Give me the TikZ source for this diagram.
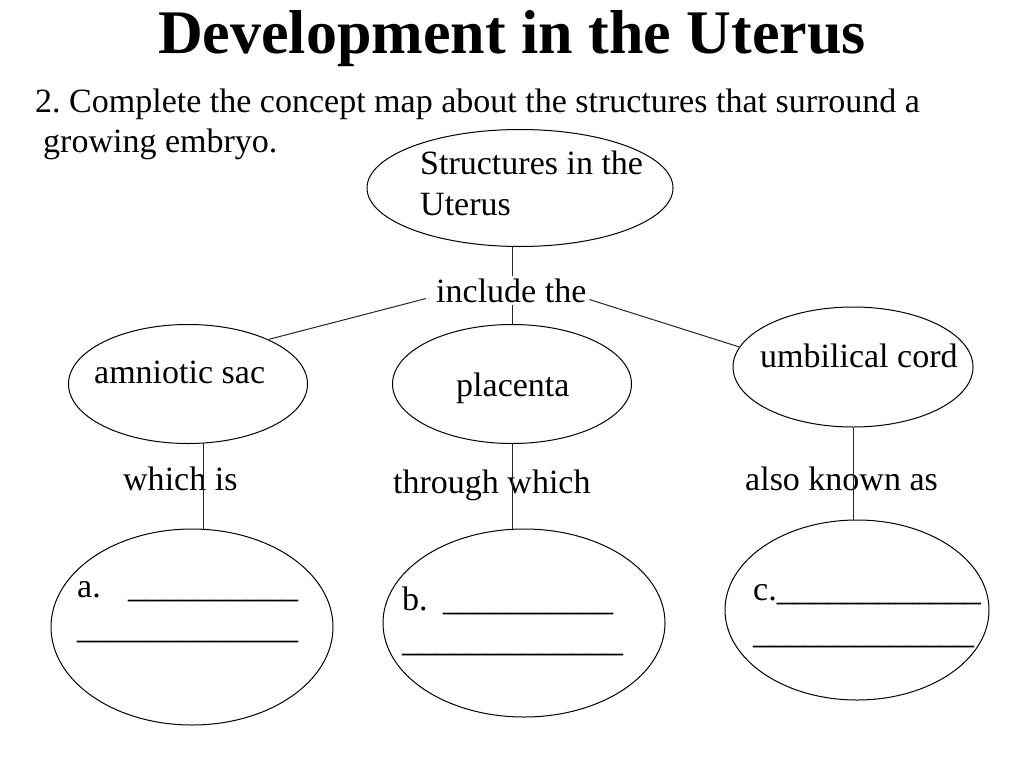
\documentclass[tikz,border=0pt]{standalone}
\usepackage{fontspec}
\setmainfont{Liberation Serif}
\frenchspacing
\usetikzlibrary{shapes.geometric}
\newcommand\blanks[1]{\foreach\k in {1,...,#1}{\_}}
\tikzset{
  bubble/.style={ellipse,draw,line width=1pt,inner sep=0pt},
  words/.style={font=\fontsize{34}{41}\selectfont,inner sep=0pt,anchor=base west,align=left},
  link/.style={draw=black!85,line width=1pt},
}

\begin{document}
\begin{tikzpicture}[x=1pt,y=-1pt]
  \fill[white] (0,0) rectangle (1024,768);
  \useasboundingbox (0,0) rectangle (1024,768);

  % heading (multi-line nodes sit on their last baseline)
  \node[font=\bfseries\fontsize{62}{70}\selectfont,inner sep=0pt,anchor=base] (title) at (512,53) {Development in the Uterus};
  \node[words,font=\fontsize{34}{40}\selectfont] (task) at (35,152) {2. Complete the concept map about the structures that surround a\\\hspace*{8pt}growing embryo.};

  % bubbles
  \node[bubble,minimum width=306pt,minimum height=117pt] (structs) at (520,188) {};
  \node[bubble,minimum width=239pt,minimum height=119pt] (amnio) at (188,384) {};
  \node[bubble,minimum width=239pt,minimum height=119pt] (placenta) at (512,384) {};
  \node[bubble,minimum width=240pt,minimum height=120pt] (umbil) at (853,367) {};
  \node[bubble,minimum width=282pt,minimum height=196pt] (ansA) at (192,627) {};
  \node[bubble,minimum width=282pt,minimum height=188pt] (ansB) at (524,623) {};
  \node[bubble,minimum width=264pt,minimum height=180pt] (ansC) at (857,610) {};

  % texts in the bubbles
  \node[words] (structsTxt) at (420,215) {Structures in the\\Uterus};
  \node[words] (amnioTxt) at (94,383) {amniotic sac};
  \node[words] (placentaTxt) at (456,396) {placenta};
  \node[words] (umbilTxt) at (760,367) {umbilical cord};
  \node[words] (ansATxt) at (77,638) {a.\hspace{27.4pt}\blanks{10}\\\blanks{13}};
  \node[words] (ansBTxt) at (402,651) {b.\hspace{15.5pt}\blanks{10}\\\blanks{13}};
  \node[words,font=\fontsize{34}{43}\selectfont] (ansCTxt) at (753,643) {c.\blanks{12}\\\blanks{13}};

  % link words
  \node[words,inner xsep=10pt,inner ysep=2pt] (incl) at (426,302) {include the};
  \node[words] (whichis) at (123,490) {which is};
  \node[words] (through) at (393,493) {through which};
  \node[words] (aka) at (745,490) {also known as};

  % connectors
  \draw[link] (placenta.north |- structs.south) -- (placenta.north |- incl.north);
  \draw[link] (placenta.north |- incl.south) -- (placenta.north);
  \draw[link] ([yshift=6pt]incl.south west) -- (amnio.29);
  \draw[link] ([shift={(-7pt,5pt)}]incl.south east) -- (umbil.170);
  \draw[link] (amnio.-75) -- (amnio.-75 |- ansA.north);
  \draw[link] (placenta.south) -- (placenta.south |- ansB.north);
  \draw[link] (umbil.south) -- (umbil.south |- ansC.north);
\end{tikzpicture}
\end{document}
